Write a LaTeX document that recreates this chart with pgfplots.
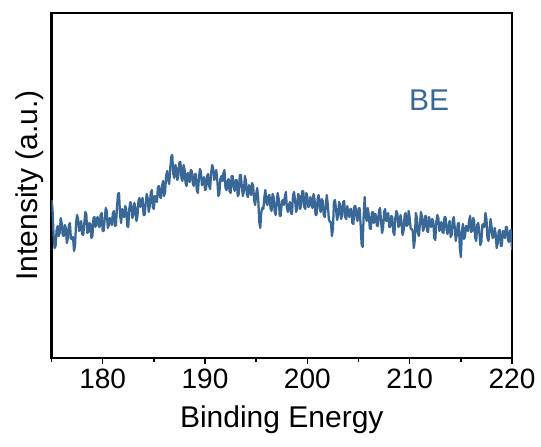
\documentclass[border=0pt]{standalone}
\usepackage{pgfplots}
\pgfplotsset{compat=1.18}
\usepackage{fontspec}
\setmainfont{Liberation Sans}
\definecolor{lineblue}{RGB}{58,104,150}
\begin{document}
\begin{tikzpicture}
\path[use as bounding box] (0,0) rectangle (405.75pt,334.5pt);
\begin{axis}[
  at={(38.625pt,66pt)}, anchor=south west,
  scale only axis, width=345.4pt, height=258.75pt,
  xmin=175, xmax=220, ymin=0, ymax=345,
  xtick={180,190,200,210,220},
  minor xtick={175,185,195,205,215},
  xtick pos=bottom, ytick=\empty,
  tick align=outside,
  major tick length=4.5pt, minor tick length=3pt,
  every tick/.style={black, line width=1.2pt},
  axis line style={line width=1.6pt},
  /pgf/number format/assume math mode=true,
  /pgf/number format/1000 sep={},
  ticklabel style={font=\fontsize{21}{24}\selectfont},
  xlabel={Binding Energy},
  ylabel={Intensity (a.u.)},
  label style={font=\fontsize{22.5}{26}\selectfont},
  xlabel style={yshift=-6pt},
  ylabel style={yshift=-2pt},
  clip=true,
]
\addplot[lineblue, line width=1.7pt, line join=round] table {
175.0 158
175.1 149
175.2 123
175.3 110
175.4 112
175.5 128
175.6 132
175.7 122
175.8 125
175.9 140
176.0 135
176.1 123
176.2 122
176.3 133
176.4 130
176.5 115
176.6 120
176.7 133
176.8 135
176.9 119
177.0 119
177.1 121
177.2 107
177.3 112
177.4 135
177.5 143
177.6 139
177.7 127
177.8 129
177.9 137
178.0 124
178.1 123
178.2 134
178.3 146
178.4 144
178.5 125
178.6 126
178.7 135
178.8 134
178.9 120
179.0 122
179.1 140
179.2 141
179.3 131
179.4 138
179.5 141
179.6 132
179.7 131
179.8 143
179.9 145
180.0 127
180.1 127
180.2 139
180.3 150
180.4 147
180.5 130
180.6 133
180.7 140
180.8 137
180.9 133
181.0 145
181.1 147
181.2 132
181.3 133
181.4 151
181.5 164
181.6 165
181.7 143
181.8 135
181.9 149
182.0 142
182.1 141
182.2 152
182.3 149
182.4 132
182.5 131
182.6 149
182.7 156
182.8 153
182.9 140
183.0 143
183.1 155
183.2 150
183.3 137
183.4 142
183.5 157
183.6 160
183.7 151
183.8 156
183.9 160
184.0 143
184.1 143
184.2 154
184.3 164
184.4 160
184.5 146
184.6 152
184.7 165
184.8 168
184.9 151
185.0 149
185.1 162
185.2 158
185.3 156
185.4 171
185.5 172
185.6 161
185.7 160
185.8 172
185.9 177
186.0 162
186.1 166
186.2 182
186.3 187
186.4 178
186.5 174
186.6 189
186.7 201
186.8 203
186.9 184
187.0 180
187.1 193
187.2 190
187.3 178
187.4 183
187.5 196
187.6 196
187.7 180
187.8 177
187.9 193
188.0 189
188.1 175
188.2 172
188.3 185
188.4 184
188.5 176
188.6 188
188.7 187
188.8 175
188.9 172
189.0 184
189.1 184
189.2 168
189.3 165
189.4 179
189.5 189
189.6 186
189.7 173
189.8 174
189.9 181
190.0 168
190.1 169
190.2 182
190.3 184
190.4 172
190.5 169
190.6 185
190.7 193
190.8 190
190.9 178
191.0 181
191.1 188
191.2 178
191.3 162
191.4 164
191.5 179
191.6 182
191.7 177
191.8 185
191.9 188
192.0 170
192.1 168
192.2 177
192.3 179
192.4 167
192.5 165
192.6 182
192.7 182
192.8 171
192.9 167
193.0 178
193.1 178
193.2 162
193.3 164
193.4 183
193.5 183
193.6 171
193.7 162
193.8 167
193.9 182
194.0 177
194.1 163
194.2 161
194.3 173
194.4 170
194.5 163
194.6 175
194.7 172
194.8 158
194.9 153
195.0 164
195.1 170
195.2 159
195.3 136
195.4 130
195.5 146
195.6 150
195.7 149
195.8 161
195.9 168
196.0 155
196.1 153
196.2 162
196.3 163
196.4 150
196.5 147
196.6 164
196.7 161
196.8 147
196.9 143
197.0 155
197.1 165
197.2 159
197.3 142
197.4 142
197.5 156
197.6 158
197.7 153
197.8 161
197.9 166
198.0 150
198.1 146
198.2 153
198.3 156
198.4 145
198.5 144
198.6 163
198.7 166
198.8 158
198.9 146
199.0 149
199.1 164
199.2 162
199.3 149
199.4 154
199.5 167
199.6 167
199.7 151
199.8 149
199.9 165
200.0 161
200.1 151
200.2 152
200.3 161
200.4 156
200.5 150
200.6 164
200.7 159
200.8 143
200.9 143
201.0 159
201.1 163
201.2 151
201.3 146
201.4 159
201.5 157
201.6 143
201.7 141
201.8 152
201.9 163
202.0 153
202.1 139
202.2 136
202.3 136
202.4 122
202.5 129
202.6 156
202.7 158
202.8 149
202.9 138
203.0 142
203.1 156
203.2 153
203.3 139
203.4 143
203.5 156
203.6 157
203.7 141
203.8 139
203.9 152
204.0 145
204.1 141
204.2 149
204.3 149
204.4 135
204.5 134
204.6 152
204.7 152
204.8 141
204.9 137
205.0 149
205.1 150
205.2 134
205.3 114
205.4 111
205.5 142
205.6 161
205.7 142
205.8 137
205.9 150
206.0 143
206.1 130
206.2 129
206.3 145
206.4 146
206.5 135
206.6 144
206.7 143
206.8 132
206.9 132
207.0 147
207.1 150
207.2 137
207.3 125
207.4 130
207.5 146
207.6 149
207.7 137
207.8 138
207.9 145
208.0 131
208.1 131
208.2 142
208.3 141
208.4 126
208.5 123
208.6 140
208.7 147
208.8 144
208.9 131
209.0 133
209.1 143
209.2 136
209.3 123
209.4 127
209.5 142
209.6 145
209.7 132
209.8 133
209.9 147
210.0 140
210.1 129
210.2 129
210.3 127
210.4 110
210.5 118
210.6 145
210.7 140
210.8 125
210.9 122
211.0 134
211.1 146
211.2 141
211.3 127
211.4 130
211.5 142
211.6 142
211.7 127
211.8 126
211.9 141
212.0 135
212.1 131
212.2 139
212.3 137
212.4 120
212.5 118
212.6 136
212.7 143
212.8 140
212.9 127
213.0 130
213.1 136
213.2 126
213.3 125
213.4 141
213.5 141
213.6 128
213.7 124
213.8 133
213.9 137
214.0 121
214.1 123
214.2 137
214.3 141
214.4 131
214.5 117
214.6 123
214.7 134
214.8 135
214.9 110
215.0 101
215.1 126
215.2 134
215.3 119
215.4 121
215.5 132
215.6 130
215.7 127
215.8 137
215.9 142
216.0 126
216.1 127
216.2 140
216.3 137
216.4 120
216.5 117
216.6 133
216.7 135
216.8 126
216.9 113
217.0 116
217.1 133
217.2 134
217.3 131
217.4 145
217.5 139
217.6 120
217.7 117
217.8 127
217.9 139
218.0 131
218.1 120
218.2 121
218.3 130
218.4 124
218.5 110
218.6 115
218.7 127
218.8 128
218.9 112
219.0 112
219.1 127
219.2 126
219.3 120
219.4 131
219.5 131
219.6 118
219.7 116
219.8 127
219.9 128
220.0 108
};
\node[lineblue, font=\fontsize{22.5}{26}\selectfont] at (axis cs:211.9,258) {BE};
\end{axis}
\end{tikzpicture}
\end{document}
